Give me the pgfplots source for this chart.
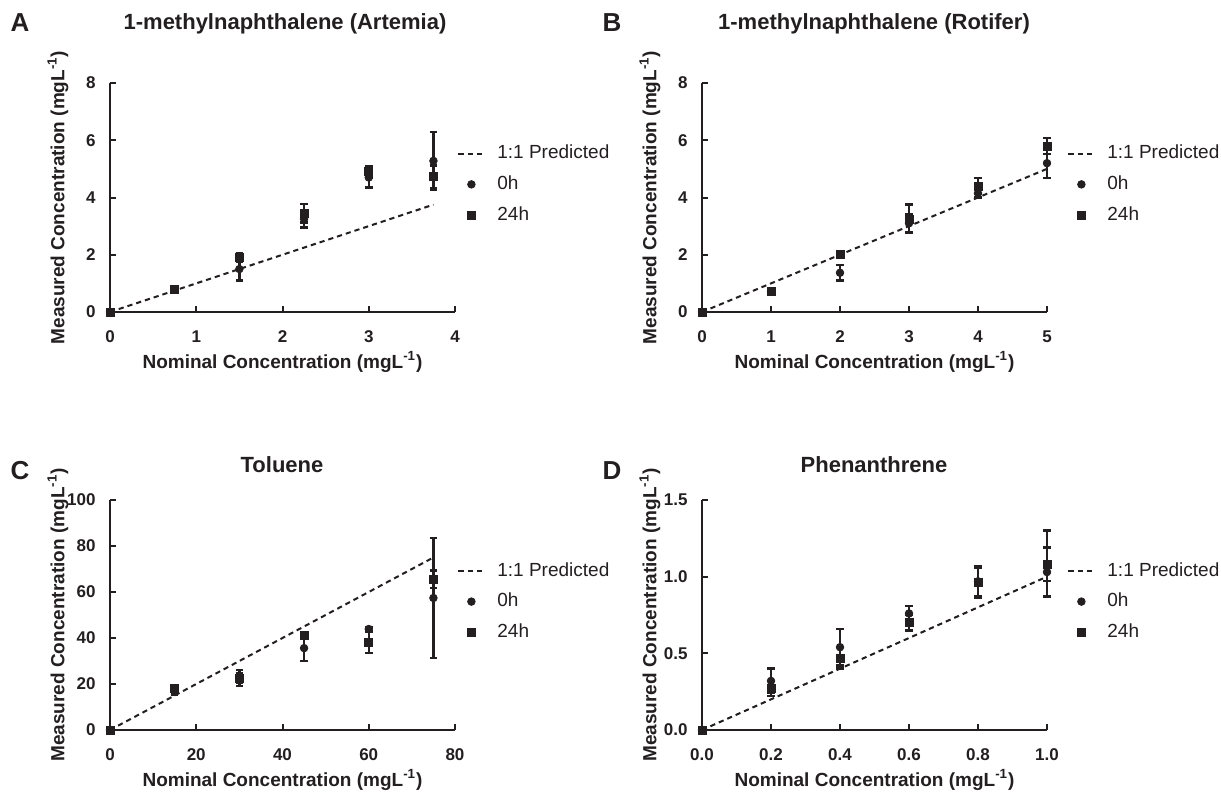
\documentclass[border=0pt]{standalone}
\usepackage{fontspec}
\setmainfont{Liberation Sans}
\usepackage{pgfplots}
\pgfplotsset{compat=1.18}
\definecolor{ink}{RGB}{35,31,32}

\pgfplotsset{
  panel/.style={
    scale only axis, width=172.5pt, height=114.5pt,
    axis lines=left, axis line style={-, line width=1pt, ink},
    tick align=inside, major tick length=3pt, tick style={line width=1pt, ink},
    xmin=0, ymin=0, clip=false,
    /pgf/number format/assume math mode=true,
    tick label style={font=\fontsize{8.5}{10}\selectfont\bfseries, text=ink},
    xticklabel style={yshift=-6pt},
    yticklabel style={xshift=-3.7pt},
    label style={font=\fontsize{9.5}{11}\selectfont\bfseries, text=ink},
    xlabel={Nominal Concentration (mgL\textsuperscript{-1})},
    ylabel={Measured Concentration (mgL\textsuperscript{-1})},
    xlabel style={at={(axis description cs:0.5,0)}, anchor=center, yshift=-25pt},
    ylabel style={at={(axis description cs:-0.151,0.5)}, anchor=center},
    legend style={draw=none, fill=none, at={(1,0.765)}, anchor=north west, xshift=-2pt,
      font=\fontsize{9.5}{11}\selectfont, text=ink, row sep=3pt,
      /tikz/every odd column/.append style={column sep=4pt}},
    legend cell align=left,
    legend image code/.code={\draw[mark repeat=2,mark phase=2]
      plot coordinates {(0pt,0pt) (6.5pt,0pt) (13pt,0pt)};},
  },
  pred/.style={ink, line width=1pt, dash pattern=on 2.6pt off 2pt},
  zero/.style={ink, only marks, mark=*, mark size=1.9pt,
    error bars/y dir=both, error bars/y explicit,
    error bars/error bar style={line width=1.2pt, ink},
    error bars/error mark options={rotate=90, mark size=1.9pt, line width=1.2pt, ink}},
  day/.style={zero, mark=square*, mark size=2pt},
}

\begin{document}
\begin{tikzpicture}
\useasboundingbox (0,0) rectangle (610.5pt,401.5pt);

% panel letters and titles
\begin{scope}[text=ink]
\node[font=\fontsize{13}{15}\selectfont\bfseries] at (10pt,390pt) {A};
\node[font=\fontsize{13}{15}\selectfont\bfseries] at (306pt,390pt) {B};
\node[font=\fontsize{13}{15}\selectfont\bfseries] at (10pt,166pt) {C};
\node[font=\fontsize{13}{15}\selectfont\bfseries] at (306pt,166pt) {D};
\node[font=\fontsize{11}{13}\selectfont\bfseries] at (142.5pt,389.5pt) {1-methylnaphthalene (Artemia)};
\node[font=\fontsize{11}{13}\selectfont\bfseries] at (437pt,389.5pt) {1-methylnaphthalene (Rotifer)};
\node[font=\fontsize{11}{13}\selectfont\bfseries] at (141pt,169pt) {Toluene};
\node[font=\fontsize{11}{13}\selectfont\bfseries] at (437pt,169pt) {Phenanthrene};
\end{scope}

% A
\begin{axis}[panel, at={(55pt,245.5pt)}, anchor=south west,
  xmax=4, ymax=8, xtick={0,1,2,3,4}, ytick={0,2,4,6,8}]
\addplot[pred] coordinates {(0,0) (3.75,3.75)};
\addplot[zero] coordinates {
  (0,0) +- (0,0)
  (0.75,0.78) +- (0,0.05)
  (1.5,1.5) +- (0,0.4)
  (2.25,3.25) +- (0,0.3)
  (3.0,4.7) +- (0,0.35)
  (3.75,5.28) +- (0,1.0)
};
\addplot[day] coordinates {
  (0,0) +- (0,0)
  (0.75,0.78) +- (0,0.05)
  (1.5,1.92) +- (0,0.15)
  (2.25,3.45) +- (0,0.33)
  (3.0,4.9) +- (0,0.2)
  (3.75,4.72) +- (0,0.4)
};
\legend{1:1 Predicted, 0h, 24h}
\end{axis}

% B
\begin{axis}[panel, at={(351pt,245.5pt)}, anchor=south west,
  xmax=5, ymax=8, xtick={0,1,2,3,4,5}, ytick={0,2,4,6,8},
  legend style={xshift=9pt}]
\addplot[pred] coordinates {(0,0) (5,5)};
\addplot[zero] coordinates {
  (0,0) +- (0,0)
  (1,0.72) +- (0,0.03)
  (2,1.37) +- (0,0.27)
  (3,3.1) +- (0,0.3)
  (4,4.15) +- (0,0.15)
  (5,5.2) +- (0,0.52)
};
\addplot[day] coordinates {
  (0,0) +- (0,0)
  (1,0.72) +- (0,0.03)
  (2,2.0) +- (0,0.12)
  (3,3.25) +- (0,0.5)
  (4,4.4) +- (0,0.28)
  (5,5.8) +- (0,0.28)
};
\legend{1:1 Predicted, 0h, 24h}
\end{axis}

% C
\begin{axis}[panel, at={(55pt,36.5pt)}, anchor=south west, height=115pt,
  xmax=80, ymax=100, xtick={0,20,40,60,80}, ytick={0,20,40,60,80,100}]
\addplot[pred] coordinates {(0,0) (75,75)};
\addplot[zero] coordinates {
  (0,0) +- (0,0)
  (15,17) +- (0,1.5)
  (30,22.6) +- (0,3.5)
  (45,35.6) +- (0,5.6)
  (60,43.9) +- (0,1)
  (75,57.4) +- (0,26)
};
\addplot[day] coordinates {
  (0,0) +- (0,0)
  (15,18) +- (0,1.5)
  (30,22.6) +- (0,2)
  (45,41.3) +- (0,1)
  (60,38.3) +- (0,4.8)
  (75,65.6) +- (0,3.8)
};
\legend{1:1 Predicted, 0h, 24h}
\end{axis}

% D
\begin{axis}[panel, at={(351pt,36.5pt)}, anchor=south west, height=115pt,
  xmax=1, ymax=1.5, xtick={0,0.2,0.4,0.6,0.8,1}, ytick={0,0.5,1,1.5},
  legend style={xshift=9pt},
  /pgf/number format/.cd, fixed, fixed zerofill, precision=1]
\addplot[pred] coordinates {(0,0) (1,1)};
\addplot[zero] coordinates {
  (0,0) +- (0,0)
  (0.2,0.32) +- (0,0.08)
  (0.4,0.54) +- (0,0.12)
  (0.6,0.76) +- (0,0.05)
  (0.8,0.97) +- (0,0.1)
  (1.0,1.03) += (0,0.27) -= (0,0.16)
};
\addplot[day] coordinates {
  (0,0) +- (0,0)
  (0.2,0.27) +- (0,0.05)
  (0.4,0.47) +- (0,0.07)
  (0.6,0.70) +- (0,0.05)
  (0.8,0.96) +- (0,0.1)
  (1.0,1.08) +- (0,0.11)
};
\legend{1:1 Predicted, 0h, 24h}
\end{axis}
\end{tikzpicture}
\end{document}
